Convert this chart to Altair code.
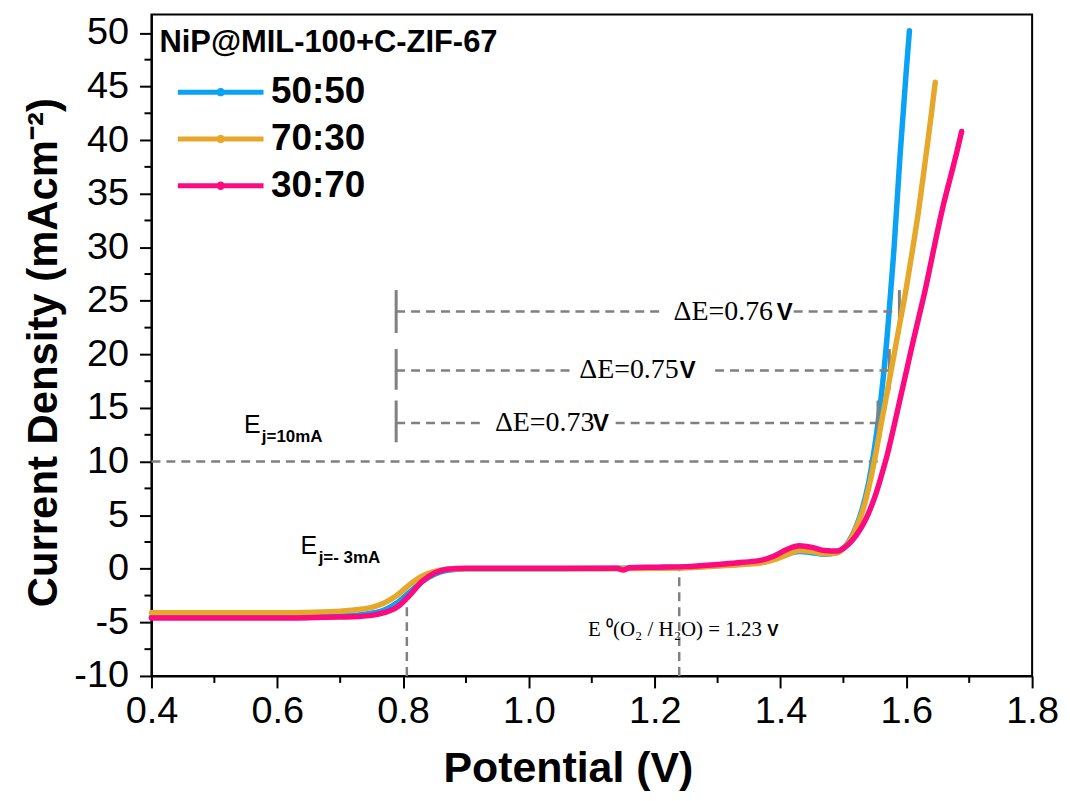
import altair as alt
import pandas as pd

# ---------------- data ----------------
series_names = ["50:50", "70:30", "30:70"]
series_colors = ["#0aa2f5", "#e6a82b", "#fb0a80"]

x_low = [0.40, 0.50, 0.60, 0.66, 0.70, 0.73, 0.75, 0.77, 0.79, 0.81, 0.83, 0.85, 0.87,
         0.90, 0.95, 1.00, 1.05, 1.10, 1.15, 1.20, 1.25, 1.30, 1.34, 1.37, 1.39, 1.41,
         1.43, 1.45, 1.47, 1.49, 1.50, 1.51, 1.52, 1.53, 1.54, 1.55, 1.56, 1.57, 1.58, 1.59, 1.60]

x_5050 = x_low + [1.605]
y_5050 = [-4.5, -4.5, -4.5, -4.45, -4.4, -4.3, -4.15, -3.85, -3.2, -2.2, -1.2, -0.5, -0.15,
          0.0, 0.0, 0.0, 0.0, 0.02, 0.05, 0.1, 0.15, 0.3, 0.45, 0.6, 0.9, 1.35,
          1.6, 1.5, 1.35, 1.5, 1.9, 2.7, 3.9, 5.6, 8.0, 11.5, 16.0, 22.0, 29.5, 38.5, 46.5, 50.2]

x_7030 = x_low + [1.61, 1.62, 1.63, 1.64, 1.646]
y_7030 = [-4.1, -4.1, -4.1, -4.05, -3.95, -3.8, -3.6, -3.2, -2.5, -1.5, -0.7, -0.25, -0.05,
          0.0, 0.0, 0.0, 0.0, 0.0, 0.02, 0.05, 0.1, 0.25, 0.4, 0.55, 0.85, 1.3,
          1.7, 1.6, 1.4, 1.5, 1.9, 2.6, 3.8, 5.3, 7.5, 10.3, 13.5, 16.6, 19.8, 23.0, 26.2,
          29.8, 33.6, 38.0, 42.5, 45.4]

x_3070 = [0.40, 0.50, 0.60, 0.66, 0.70, 0.73, 0.75, 0.77, 0.79, 0.81, 0.83, 0.85, 0.87,
          0.90, 0.95, 1.00, 1.05, 1.10, 1.14, 1.15, 1.16, 1.20, 1.25, 1.30, 1.34, 1.37, 1.39, 1.41,
          1.43, 1.45, 1.47, 1.49, 1.50, 1.51, 1.52, 1.53, 1.54, 1.55, 1.56, 1.57, 1.58, 1.59, 1.60,
          1.61, 1.62, 1.63, 1.64, 1.65, 1.66, 1.67, 1.68, 1.688]
y_3070 = [-4.6, -4.6, -4.6, -4.55, -4.5, -4.45, -4.35, -4.1, -3.6, -2.5, -1.2, -0.4, -0.05,
          0.05, 0.05, 0.05, 0.05, 0.05, 0.05, -0.12, 0.1, 0.15, 0.2, 0.4, 0.6, 0.8, 1.2, 1.8,
          2.15, 2.0, 1.7, 1.65, 1.9, 2.4, 3.1, 4.0, 5.2, 6.7, 8.6, 10.7, 13.2, 15.8, 18.4,
          21.0, 23.5, 26.0, 28.8, 31.6, 34.2, 36.5, 38.8, 40.8]

x_ticks = [0.4, 0.6, 0.8, 1.0, 1.2, 1.4, 1.6, 1.8]
x_minor = [0.5, 0.7, 0.9, 1.1, 1.3, 1.5, 1.7]
y_ticks = [-10, -5, 0, 5, 10, 15, 20, 25, 30, 35, 40, 45, 50]
y_minor = [-7.5, -2.5, 2.5, 7.5, 12.5, 17.5, 22.5, 27.5, 32.5, 37.5, 42.5, 47.5]

# dashed guide lines (horizontal): y, from, to
h_y = [10.0, 24.0, 24.0, 18.5, 18.5, 13.6, 13.6]
h_x1 = [0.40, 0.789, 1.421, 0.789, 1.296, 0.789, 1.138]
h_x2 = [1.570, 1.213, 1.589, 1.066, 1.573, 0.922, 1.555]
# dashed guide lines (vertical)
v_x = [0.806, 1.239]
v_y1 = [-10.0, -10.0]
v_y2 = [-3.0, -0.1]
# solid end bars
b_x = [0.789, 0.789, 0.789, 1.589, 1.573, 1.555]
b_y1 = [22.0, 16.7, 11.8, 22.0, 16.7, 11.8]
b_y2 = [26.0, 20.5, 15.7, 26.0, 20.5, 15.7]

# ΔE labels
de_text = ["ΔE=0.76", "ΔE=0.75", "ΔE=0.73"]
de_x = [1.230, 1.080, 0.946]
de_vx = [1.394, 1.240, 1.102]
de_y = [24.0, 18.5, 13.6]

# E labels
e_text = ["E", "E"]
e_x = [0.547, 0.637]
e_y = [12.7, 1.35]
sub_text = ["j=10mA", "j=- 3mA"]
sub_x = [0.5755, 0.6658]
sub_y = [11.8, 0.5]

e0_text = ["E ⁰(O₂ / H₂O) = 1.23"]
e0_x = [1.094]
e0_y = [-6.3]
e0_vx = [1.379]

# ---------------- chart ----------------
XS = alt.Scale(domain=[0.4, 1.8], nice=False, zero=False)
YS = alt.Scale(domain=[-10, 51.72], nice=False, zero=False)
FONT = "Liberation Sans"
SERIF = "Liberation Serif"
GRAY = "#808080"

x_axis = alt.Axis(values=x_ticks, format=".1f", title="Potential (V)", grid=False,
                  labelFontSize=38, labelFont=FONT, labelColor="black", labelFlush=False,
                  labelOverlap=False, labelPadding=5, tickSize=12, tickWidth=2, tickColor="black",
                  domainColor="black", domainWidth=2, titleFont=FONT, titleFontSize=43,
                  titleFontWeight="bold", titleColor="black", titlePadding=17, titleX=418)
y_axis = alt.Axis(values=y_ticks, labelExpr="datum.value + ''", title="Current Density (mAcm⁻²)",
                  grid=False, labelFontSize=38, labelFont=FONT, labelColor="black",
                  labelOverlap=False, labelPadding=11, tickSize=12, tickWidth=2, tickColor="black",
                  domainColor="black", domainWidth=2, titleFont=FONT, titleFontSize=42,
                  titleFontWeight="bold", titleColor="black", titlePadding=8, titleY=339)

legend = alt.Legend(title="NiP@MIL-100+C-ZIF-67", orient="none", legendX=8, legendY=14,
                    titleFont=FONT, titleFontSize=31, titleFontWeight="bold", titleColor="black",
                    titlePadding=13, titleLimit=800,
                    labelFont=FONT, labelFontSize=37, labelFontWeight="bold", labelColor="black",
                    labelLimit=400, labelOffset=5,
                    symbolType="M-1,0H1M-0.04,0a0.04,0.04 0 1,0 0.08,0a0.04,0.04 0 1,0 -0.08,0",
                    symbolSize=7396, symbolStrokeWidth=5, symbolOffset=16,
                    clipHeight=40, rowPadding=7, padding=0)

color = alt.Color("s:N", scale=alt.Scale(domain=series_names, range=series_colors), legend=legend)


def nx(field=None, datum=None):
    if datum is not None:
        return alt.X(datum=datum, type="quantitative", scale=XS, axis=x_axis)
    return alt.X(field, scale=XS, axis=x_axis)


def ny(field=None, datum=None):
    if datum is not None:
        return alt.Y(datum=datum, type="quantitative", scale=YS, axis=y_axis)
    return alt.Y(field, scale=YS, axis=y_axis)


def curve(xs, ys, name):
    df = pd.DataFrame({"E": xs, "j": ys, "s": name})
    return alt.Chart(df).mark_line(strokeWidth=5.5, interpolate="monotone", strokeCap="round").encode(
        x=nx("E:Q"), y=ny("j:Q"), color=color)


hdf = pd.DataFrame({"y": h_y, "x1": h_x1, "x2": h_x2})
hdash = alt.Chart(hdf).mark_rule(color=GRAY, strokeWidth=2.5, strokeDash=[9, 6]).encode(
    x=nx("x1:Q"), x2="x2:Q", y=ny("y:Q"))

vdf = pd.DataFrame({"x": v_x, "y1": v_y1, "y2": v_y2})
vdash = alt.Chart(vdf).mark_rule(color=GRAY, strokeWidth=2.5, strokeDash=[9, 6]).encode(
    x=nx("x:Q"), y=ny("y1:Q"), y2="y2:Q")

bdf = pd.DataFrame({"x": b_x, "y1": b_y1, "y2": b_y2})
bars = alt.Chart(bdf).mark_rule(color=GRAY, strokeWidth=3).encode(
    x=nx("x:Q"), y=ny("y1:Q"), y2="y2:Q")

xmdf = pd.DataFrame({"x": x_minor})
xminor = alt.Chart(xmdf).mark_rule(color="black", strokeWidth=2, y2Offset=7).encode(
    x=nx("x:Q"), y=ny(datum=-10), y2=alt.datum(-10))
ymdf = pd.DataFrame({"y": y_minor})
yminor = alt.Chart(ymdf).mark_rule(color="black", strokeWidth=2, x2Offset=-7).encode(
    y=ny("y:Q"), x=nx(datum=0.4), x2=alt.datum(0.4))

dedf = pd.DataFrame({"t": de_text, "x": de_x, "vx": de_vx, "y": de_y})
de_lbl = alt.Chart(dedf).mark_text(font=SERIF, fontSize=28, align="left", baseline="middle",
                                   color="black").encode(x=nx("x:Q"), y=ny("y:Q"), text="t:N")
de_v = alt.Chart(dedf).mark_text(font=FONT, fontSize=24, fontWeight="bold", align="left",
                                 baseline="middle", color="black", dy=1).encode(
    x=nx("vx:Q"), y=ny("y:Q"), text=alt.value("V"))

edf = pd.DataFrame({"t": e_text, "x": e_x, "y": e_y})
e_lbl = alt.Chart(edf).mark_text(font=FONT, fontSize=25, align="left", baseline="alphabetic",
                                 color="black").encode(x=nx("x:Q"), y=ny("y:Q"), text="t:N")
sdf = pd.DataFrame({"t": sub_text, "x": sub_x, "y": sub_y})
s_lbl = alt.Chart(sdf).mark_text(font=FONT, fontSize=17, fontWeight="bold", align="left",
                                 baseline="alphabetic", color="black").encode(
    x=nx("x:Q"), y=ny("y:Q"), text="t:N")

e0df = pd.DataFrame({"t": e0_text, "x": e0_x, "vx": e0_vx, "y": e0_y})
e0_lbl = alt.Chart(e0df).mark_text(font=SERIF, fontSize=21, align="left", baseline="alphabetic",
                                   color="black").encode(x=nx("x:Q"), y=ny("y:Q"), text="t:N")
e0_v = alt.Chart(e0df).mark_text(font=FONT, fontSize=17, fontWeight="bold", align="left",
                                 baseline="alphabetic", color="black").encode(
    x=nx("vx:Q"), y=ny("y:Q"), text=alt.value("V"))

chart = alt.layer(
    curve(x_5050, y_5050, "50:50"),
    hdash, vdash, bars,
    curve(x_7030, y_7030, "70:30"),
    curve(x_3070, y_3070, "30:70"),
    de_lbl, de_v, e_lbl, s_lbl, e0_lbl, e0_v,
    xminor, yminor,
).properties(
    width=884, height=664,
    padding={"left": 144, "top": 5, "right": 30, "bottom": 114},
    autosize=alt.AutoSizeParams(type="none"),
    background="white",
).configure_view(stroke="black", strokeWidth=2)

chart.save("out.html", embed_options={"renderer": "svg", "actions": False})
